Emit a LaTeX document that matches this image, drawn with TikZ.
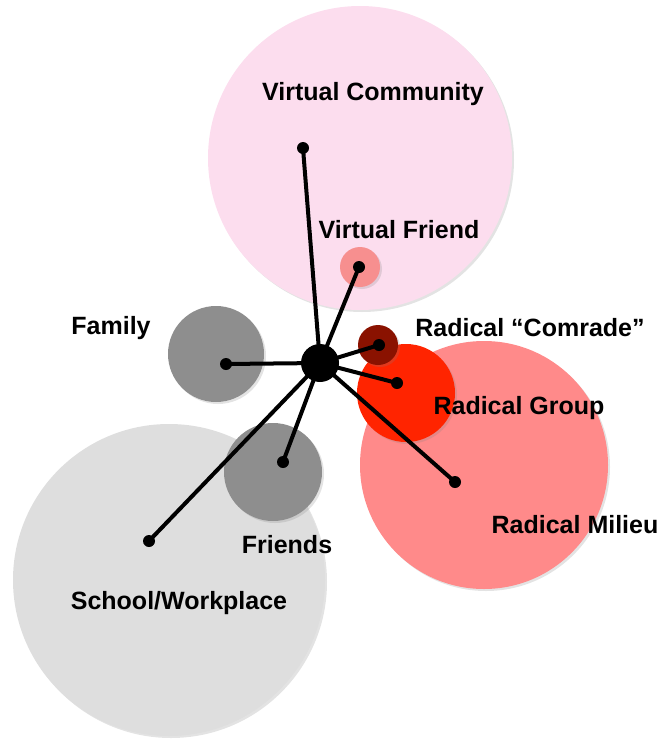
\documentclass[tikz,border=0pt]{standalone}
\usepackage{fontspec}
\setmainfont{Liberation Sans}
\usetikzlibrary{shadows}
\definecolor{vcpink}{HTML}{FCDDEE}
\definecolor{vfred}{HTML}{F78F8F}
\definecolor{famgray}{HTML}{8E8E8E}
\definecolor{schgray}{HTML}{DEDEDE}
\definecolor{comred}{HTML}{8A1200}
\definecolor{grpred}{HTML}{FF2400}
\definecolor{milred}{HTML}{FF8A8A}
\tikzset{
  sphere/.style={circle, inner sep=0pt, minimum size=#1,
    drop shadow={opacity=.22, shadow xshift=2pt, shadow yshift=-2pt}},
  pin/.style={circle, fill=black, inner sep=0pt, minimum size=12pt},
  tie/.style={line width=4pt},
  lbl/.style={font=\fontsize{25}{30}\selectfont\bfseries}
}
\begin{document}
\begin{tikzpicture}[x=1pt, y=-1pt]
  \useasboundingbox (0,0) rectangle (663,739);
  % spheres
  \node[sphere=304pt, fill=vcpink] (vc) at (360,158) {};
  \node[sphere=40pt, fill=vfred] (vf) at (360,267) {};
  \node[sphere=312pt, fill=schgray] (school) at (169,580) {};
  \node[sphere=98pt, fill=famgray] (friends) at (273,472) {};
  \node[sphere=96pt, fill=famgray] (family) at (216,354) {};
  \node[sphere=248pt, fill=milred] (milieu) at (484,465) {};
  \node[sphere=98pt, fill=grpred] (group) at (406,393) {};
  \node[sphere=40pt, fill=comred] (comrade) at (378,345) {};
  % labels
  \node[lbl] (vclabel) at (373,94) {Virtual Community};
  \node[lbl] (vflabel) at (399,230) {Virtual Friend};
  \node[lbl] (famlabel) at (111,328) {Family};
  \node[lbl] (comlabel) at (530,328) {Radical “Comrade”};
  \node[lbl] (grplabel) at (519,408) {Radical Group};
  \node[lbl] (millabel) at (575,525) {Radical Milieu};
  \node[lbl] (frlabel) at (287,545) {Friends};
  \node[lbl] (schlabel) at (179,603) {School/Workplace};
  % pins
  \node[pin] (pvc) at (303,148) {};
  \node[pin] (pvf) at (359,267) {};
  \node[pin] (pfam) at (226,364) {};
  \node[pin] (pcom) at (379,345) {};
  \node[pin] (pgrp) at (397,383) {};
  \node[pin] (pmil) at (455,482) {};
  \node[pin] (pfr) at (283,462) {};
  \node[pin] (psch) at (149,541) {};
  \coordinate (c) at (320,363);
  \foreach \p in {pvc,pvf,pfam,pcom,pgrp,pmil,pfr,psch}
    \draw[tie] (c) -- (\p.center);
  \node[circle, fill=black, inner sep=0pt, minimum size=38pt] (hub) at (c) {};
\end{tikzpicture}
\end{document}
